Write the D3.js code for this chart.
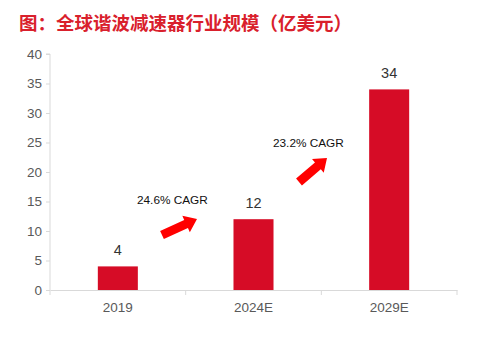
<!DOCTYPE html>
<html><head><meta charset="utf-8">
<script src="https://cdn.jsdelivr.net/npm/d3@7"></script>
<style>body{margin:0;background:#fff}svg{display:block}</style>
</head><body>
<svg id="c" width="482" height="344"></svg>
<script>
const title = "图：全球谐波减速器行业规模（亿美元）";
const categories = ["2019", "2024E", "2029E"];
const values = [4, 12, 34];
const yTicks = [0, 5, 10, 15, 20, 25, 30, 35, 40];
const cagrLabels = ["24.6% CAGR", "23.2% CAGR"];

(function () {
const svg = d3.select("#c");
const font = "Arial, 'Liberation Sans', 'Noto Sans CJK SC', sans-serif";
const mLeft = 50, mRight = 457, mTop = 54, mBottom = 290;

const x = d3.scaleBand().domain(categories).range([mLeft, mRight]).paddingInner(0.705).paddingOuter(0.3525);
const xb = d3.scaleBand().domain(categories).range([mLeft, mRight]);
const y = d3.scaleLinear().domain([0, 40]).range([mBottom, mTop]);

svg.append("text").attr("x", 19).attr("y", 30).attr("fill", "#D9202C")
  .attr("font-family", "'Noto Sans CJK SC', sans-serif").attr("font-weight", "bold")
  .attr("font-size", 18.5).attr("textLength", 333).attr("lengthAdjust", "spacing").text(title);

// y axis
const ya = svg.append("g").attr("transform", `translate(${mLeft},0)`)
  .call(d3.axisLeft(y).tickValues(yTicks).tickSize(4).tickPadding(4));
ya.select(".domain").attr("stroke", "#d9d9d9").attr("d", `M-4,${mTop}H0V${mBottom}`);
ya.selectAll(".tick line").attr("stroke", "#d9d9d9");
ya.selectAll(".tick text").attr("fill", "#595959").attr("font-size", 13.5).attr("font-family", font);

// x axis
const xa = svg.append("g").attr("transform", `translate(0,${mBottom})`)
  .call(d3.axisBottom(xb).tickSize(0).tickPadding(12));
xa.select(".domain").attr("stroke", "#d9d9d9");
xa.selectAll(".tick text").attr("fill", "#595959").attr("font-size", 13.5).attr("font-family", font);
const bounds = [mLeft].concat(categories.map(c => xb(c) + xb.bandwidth()));
svg.append("g").selectAll("line").data(bounds).join("line")
  .attr("x1", d => d).attr("x2", d => d).attr("y1", mBottom).attr("y2", mBottom + 5)
  .attr("stroke", "#d9d9d9");

// bars
svg.append("g").selectAll("rect").data(values).join("rect")
  .attr("x", (d, i) => x(categories[i])).attr("width", x.bandwidth())
  .attr("y", d => y(d)).attr("height", d => y(0) - y(d)).attr("fill", "#D60C26");

svg.append("g").selectAll("text").data(values).join("text")
  .attr("x", (d, i) => x(categories[i]) + x.bandwidth() / 2).attr("y", d => y(d) - 11)
  .attr("text-anchor", "middle").attr("fill", "#333").attr("font-size", 14.5).attr("font-family", font)
  .text(d => d);

// arrows
function arrow(x1, y1, x2, y2) {
  const ang = Math.atan2(y2 - y1, x2 - x1);
  const len = Math.hypot(x2 - x1, y2 - y1);
  const hl = 12, sw = 4.5, hw = 9;
  const pts = [[0, -sw], [len - hl, -sw], [len - hl, -hw], [len, 0], [len - hl, hw], [len - hl, sw], [0, sw]];
  svg.append("polygon")
    .attr("points", pts.map(p => p.join(",")).join(" "))
    .attr("transform", `translate(${x1},${y1}) rotate(${ang * 180 / Math.PI})`)
    .attr("fill", "#FF0000");
}
arrow(162, 235, 197, 219);
arrow(299, 182, 327, 158);

svg.append("text").attr("x", 137).attr("y", 204).attr("font-size", 11.8).attr("font-family", font)
  .attr("fill", "#111").text(cagrLabels[0]);
svg.append("text").attr("x", 273).attr("y", 147).attr("font-size", 11.8).attr("font-family", font)
  .attr("fill", "#111").text(cagrLabels[1]);
})();
</script>
</body></html>
